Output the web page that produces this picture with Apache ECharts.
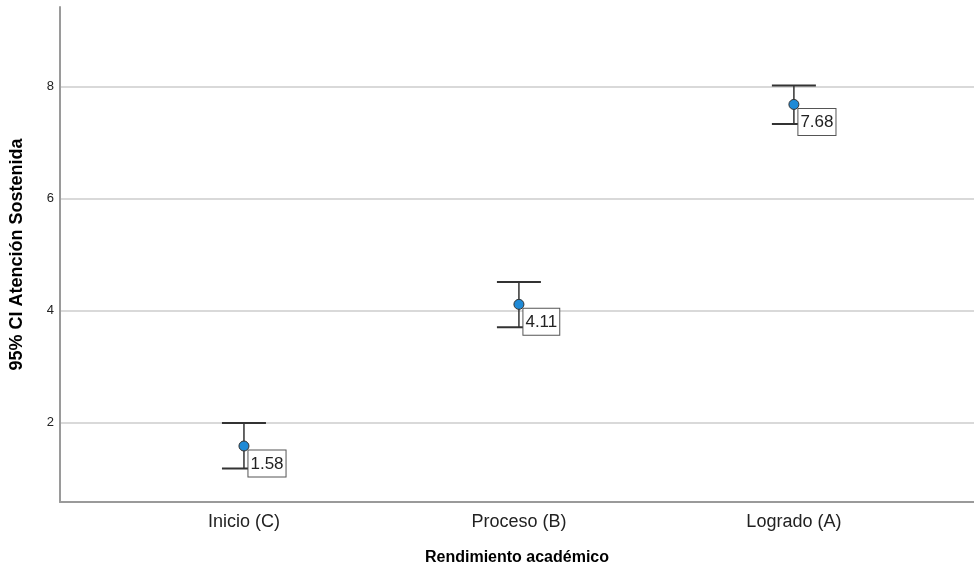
<!DOCTYPE html>
<html>
<head>
<meta charset="utf-8">
<script src="https://cdn.jsdelivr.net/npm/echarts@6/dist/echarts.min.js"></script>
<style>
html,body{margin:0;padding:0;background:#fff;}
#chart{width:974px;height:571px;}
</style>
</head>
<body>
<div id="chart"></div>
<script>
// Data
var categories = ['Inicio (C)', 'Proceso (B)', 'Logrado (A)'];
var positions = [1, 2, 3];
var means = [1.58, 4.11, 7.68];
var lowerCI = [1.18, 3.70, 7.33];
var upperCI = [1.99, 4.51, 8.02];
var yTicks = [2, 4, 6, 8];

var barData = positions.map(function (p, i) { return [p, lowerCI[i], upperCI[i]]; });
var meanData = positions.map(function (p, i) { return [p, means[i]]; });

var FONT = '"Liberation Sans", Arial, sans-serif';
var chart = echarts.init(document.getElementById('chart'), null, { renderer: 'canvas' });

chart.setOption({
  backgroundColor: '#ffffff',
  animation: false,
  grid: { left: 60, right: 0, top: 7, bottom: 65, containLabel: false },
  xAxis: {
    type: 'value',
    min: 0.331,
    max: 3.655,
    name: 'Rendimiento académico',
    nameLocation: 'middle',
    nameGap: 48,
    nameTextStyle: { fontFamily: FONT, fontSize: 16, fontWeight: 'bold', color: '#000' },
    axisLine: { show: true, lineStyle: { color: '#9a9a9a', width: 2 } },
    axisTick: { show: false },
    splitLine: { show: false },
    axisLabel: {
      customValues: positions,
      formatter: function (v) {
        var i = positions.indexOf(Math.round(v));
        return i >= 0 ? categories[i] : '';
      },
      fontFamily: FONT, fontSize: 18, color: '#222', margin: 11
    }
  },
  yAxis: {
    type: 'value',
    min: 0.58,
    max: 9.42,
    name: '95% CI Atención Sostenida',
    nameLocation: 'middle',
    nameGap: 34,
    nameTextStyle: { fontFamily: FONT, fontSize: 18, fontWeight: 'bold', color: '#000' },
    axisLine: { show: true, lineStyle: { color: '#9a9a9a', width: 2 } },
    axisTick: { show: false, customValues: yTicks },
    axisLabel: { customValues: yTicks, fontFamily: FONT, fontSize: 13, color: '#222', margin: 6 },
    splitLine: { show: true, lineStyle: { color: '#cccccc', width: 1.5 } }
  },
  series: [
    {
      type: 'custom',
      z: 3,
      data: barData,
      renderItem: function (params, api) {
        var x = api.value(0);
        var lo = api.coord([x, api.value(1)]);
        var hi = api.coord([x, api.value(2)]);
        var half = 22;
        var st = { stroke: '#333', lineWidth: 2 };
        return {
          type: 'group',
          children: [
            { type: 'line', shape: { x1: lo[0], y1: lo[1], x2: hi[0], y2: hi[1] }, style: { stroke: '#333', lineWidth: 1.5 } },
            { type: 'line', shape: { x1: hi[0] - half, y1: hi[1], x2: hi[0] + half, y2: hi[1] }, style: st },
            { type: 'line', shape: { x1: lo[0] - half, y1: lo[1], x2: lo[0] + half, y2: lo[1] }, style: st }
          ]
        };
      }
    },
    {
      type: 'scatter',
      z: 5,
      data: meanData,
      symbol: 'circle',
      symbolSize: 10,
      itemStyle: { color: '#1f8ad6', borderColor: '#333', borderWidth: 1, opacity: 1 },
      label: {
        show: true,
        position: [10, 10],
        formatter: function (p) { return p.value[1].toFixed(2); },
        fontFamily: FONT,
        fontSize: 17,
        color: '#222',
        backgroundColor: '#fff',
        borderColor: '#555',
        borderWidth: 1,
        padding: [4, 2, 3, 2],
        lineHeight: 19
      },
      emphasis: { disabled: true }
    }
  ]
});
</script>
</body>
</html>
